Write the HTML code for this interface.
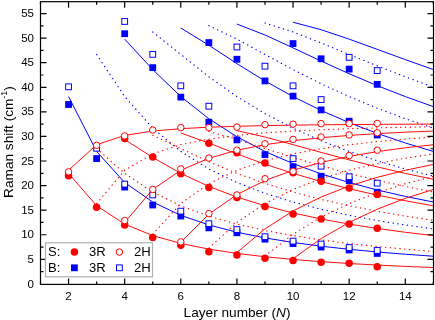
<!DOCTYPE html>
<html><head><meta charset="utf-8"><style>
html,body{margin:0;padding:0;background:#fff;width:435px;height:320px;overflow:hidden}
svg{display:block;will-change:transform}
</style></head><body>
<svg width="435" height="320" viewBox="0 0 435 320">
<defs><clipPath id="c"><rect x="40.50" y="1.5" width="392.84" height="282.40"/></clipPath></defs>
<g clip-path="url(#c)" fill="none">
<polyline points="68.56,96.57 96.62,151.44 124.68,182.52 152.74,202.04 180.80,215.33 208.86,224.95 236.92,232.22 264.98,237.90 293.04,242.46 321.10,246.20 349.16,249.32 377.22,251.97 405.28,254.24 433.34,256.21" stroke="#0000ff" stroke-width="1.0"/>
<polyline points="96.62,54.47 124.68,96.57 152.74,128.18 180.80,151.44 208.86,168.96 236.92,182.52 264.98,193.29 293.04,202.04 321.10,209.26 349.16,215.33 377.22,220.50 405.28,224.95 433.34,228.82" stroke="#0000ff" stroke-width="1.2" stroke-linecap="round" stroke-dasharray="0.35 4.45"/>
<polyline points="124.68,39.15 152.74,69.58 180.80,96.57 208.86,118.73 236.92,136.72 264.98,151.44 293.04,163.63 321.10,173.85 349.16,182.52 377.22,189.96 405.28,196.40 433.34,202.04" stroke="#0000ff" stroke-width="1.0"/>
<polyline points="152.74,31.95 180.80,54.47 208.86,76.78 236.92,96.57 264.98,113.61 293.04,128.18 321.10,140.67 349.16,151.44 377.22,160.79 405.28,168.96 433.34,176.15" stroke="#0000ff" stroke-width="1.2" stroke-linecap="round" stroke-dasharray="0.35 4.45"/>
<polyline points="180.80,28.01 208.86,45.22 236.92,63.63 264.98,80.96 293.04,96.57 321.10,110.42 349.16,122.63 377.22,133.41 405.28,142.95 433.34,151.44" stroke="#0000ff" stroke-width="1.0"/>
<polyline points="208.86,25.62 236.92,39.15 264.98,54.47 293.04,69.58 321.10,83.69 349.16,96.57 377.22,108.23 405.28,118.73 433.34,128.18" stroke="#0000ff" stroke-width="1.2" stroke-linecap="round" stroke-dasharray="0.35 4.45"/>
<polyline points="236.92,24.07 264.98,34.96 293.04,47.86 321.10,61.04 349.16,73.73 377.22,85.61 405.28,96.57 433.34,106.63" stroke="#0000ff" stroke-width="1.0"/>
<polyline points="264.98,23.01 293.04,31.95 321.10,42.92 349.16,54.47 377.22,65.88 405.28,76.78 433.34,87.03" stroke="#0000ff" stroke-width="1.2" stroke-linecap="round" stroke-dasharray="0.35 4.45"/>
<polyline points="293.04,22.24 321.10,29.71 349.16,39.15 377.22,49.33 405.28,59.59 433.34,69.58" stroke="#0000ff" stroke-width="1.0"/>
<polyline points="68.56,173.38 96.62,205.75 124.68,224.09 152.74,235.60 180.80,243.45 208.86,249.12 236.92,253.41 264.98,256.76 293.04,259.45 321.10,261.66 349.16,263.50 377.22,265.06 405.28,266.40 433.34,267.56" stroke="#ff0000" stroke-width="0.95"/>
<polyline points="96.62,148.54 124.68,173.38 152.74,192.03 180.80,205.75 208.86,216.09 236.92,224.09 264.98,230.44 293.04,235.60 321.10,239.87 349.16,243.45 377.22,246.50 405.28,249.12 433.34,251.40" stroke="#ff0000" stroke-width="1.2" stroke-linecap="round" stroke-dasharray="0.35 4.45"/>
<polyline points="124.68,139.50 152.74,157.45 180.80,173.38 208.86,186.45 236.92,197.07 264.98,205.75 293.04,212.94 321.10,218.97 349.16,224.09 377.22,228.48 405.28,232.28 433.34,235.60" stroke="#ff0000" stroke-width="0.95"/>
<polyline points="152.74,135.25 180.80,148.54 208.86,161.70 236.92,173.38 264.98,183.43 293.04,192.03 321.10,199.40 349.16,205.75 377.22,211.27 405.28,216.09 433.34,220.33" stroke="#ff0000" stroke-width="1.2" stroke-linecap="round" stroke-dasharray="0.35 4.45"/>
<polyline points="180.80,132.93 208.86,143.08 236.92,153.94 264.98,164.17 293.04,173.38 321.10,181.55 349.16,188.75 377.22,195.11 405.28,200.74 433.34,205.75" stroke="#ff0000" stroke-width="0.95"/>
<polyline points="208.86,131.52 236.92,139.50 264.98,148.54 293.04,157.45 321.10,165.78 349.16,173.38 377.22,180.26 405.28,186.45 433.34,192.03" stroke="#ff0000" stroke-width="1.2" stroke-linecap="round" stroke-dasharray="0.35 4.45"/>
<polyline points="236.92,130.61 264.98,137.03 293.04,144.64 321.10,152.41 349.16,159.90 377.22,166.91 405.28,173.38 433.34,179.32" stroke="#ff0000" stroke-width="0.95"/>
<polyline points="68.56,170.25 96.62,144.71 124.68,135.41 152.74,131.05 180.80,128.66 208.86,127.21 236.92,126.27 264.98,125.62 293.04,125.16 321.10,124.82 349.16,124.55 377.22,124.35 405.28,124.19 433.34,124.06" stroke="#ff0000" stroke-width="0.95"/>
<polyline points="96.62,203.54 124.68,170.25 152.74,153.87 180.80,144.71 208.86,139.10 236.92,135.41 264.98,132.87 293.04,131.05 321.10,129.69 349.16,128.66 377.22,127.85 405.28,127.21 433.34,126.69" stroke="#ff0000" stroke-width="1.2" stroke-linecap="round" stroke-dasharray="0.35 4.45"/>
<polyline points="124.68,222.39 152.74,189.43 180.80,170.25 208.86,158.24 236.92,150.27 264.98,144.71 293.04,140.70 321.10,137.70 349.16,135.41 377.22,133.62 405.28,132.20 433.34,131.05" stroke="#ff0000" stroke-width="0.95"/>
<polyline points="152.74,234.23 180.80,203.54 208.86,183.69 236.92,170.25 264.98,160.78 293.04,153.87 321.10,148.69 349.16,144.71 377.22,141.59 405.28,139.10 433.34,137.07" stroke="#ff0000" stroke-width="1.2" stroke-linecap="round" stroke-dasharray="0.35 4.45"/>
<polyline points="180.80,242.30 208.86,214.17 236.92,194.61 264.98,180.59 293.04,170.25 321.10,162.44 349.16,156.39 377.22,151.63 405.28,147.81 433.34,144.71" stroke="#ff0000" stroke-width="0.95"/>
<polyline points="208.86,248.14 236.92,222.39 264.98,203.54 293.04,189.43 321.10,178.65 349.16,170.25 377.22,163.60 405.28,158.24 433.34,153.87" stroke="#ff0000" stroke-width="1.2" stroke-linecap="round" stroke-dasharray="0.35 4.45"/>
<polyline points="236.92,252.54 264.98,228.93 293.04,210.93 321.10,197.01 349.16,186.06 377.22,177.32 405.28,170.25 433.34,164.46" stroke="#ff0000" stroke-width="0.95"/>
<polyline points="264.98,255.99 293.04,234.23 321.10,217.13 349.16,203.54 377.22,192.60 405.28,183.69 433.34,176.36" stroke="#ff0000" stroke-width="1.2" stroke-linecap="round" stroke-dasharray="0.35 4.45"/>
<polyline points="293.04,258.76 321.10,238.62 349.16,222.39 377.22,209.21 405.28,198.39 433.34,189.43" stroke="#ff0000" stroke-width="0.95"/>
</g>
<rect x="65.16" y="101.10" width="6.8" height="6.8" fill="#0000ff"/>
<rect x="93.22" y="155.17" width="6.8" height="6.8" fill="#0000ff"/>
<rect x="121.28" y="30.33" width="6.8" height="6.8" fill="#0000ff"/>
<rect x="121.28" y="183.67" width="6.8" height="6.8" fill="#0000ff"/>
<rect x="149.34" y="64.24" width="6.8" height="6.8" fill="#0000ff"/>
<rect x="149.34" y="201.61" width="6.8" height="6.8" fill="#0000ff"/>
<rect x="177.40" y="93.73" width="6.8" height="6.8" fill="#0000ff"/>
<rect x="177.40" y="212.67" width="6.8" height="6.8" fill="#0000ff"/>
<rect x="205.46" y="39.17" width="6.8" height="6.8" fill="#0000ff"/>
<rect x="205.46" y="118.80" width="6.8" height="6.8" fill="#0000ff"/>
<rect x="205.46" y="224.47" width="6.8" height="6.8" fill="#0000ff"/>
<rect x="233.52" y="55.88" width="6.8" height="6.8" fill="#0000ff"/>
<rect x="233.52" y="136.49" width="6.8" height="6.8" fill="#0000ff"/>
<rect x="233.52" y="229.38" width="6.8" height="6.8" fill="#0000ff"/>
<rect x="261.58" y="77.51" width="6.8" height="6.8" fill="#0000ff"/>
<rect x="261.58" y="151.24" width="6.8" height="6.8" fill="#0000ff"/>
<rect x="261.58" y="235.77" width="6.8" height="6.8" fill="#0000ff"/>
<rect x="289.64" y="40.16" width="6.8" height="6.8" fill="#0000ff"/>
<rect x="289.64" y="92.75" width="6.8" height="6.8" fill="#0000ff"/>
<rect x="289.64" y="163.28" width="6.8" height="6.8" fill="#0000ff"/>
<rect x="289.64" y="240.20" width="6.8" height="6.8" fill="#0000ff"/>
<rect x="317.70" y="55.39" width="6.8" height="6.8" fill="#0000ff"/>
<rect x="317.70" y="106.51" width="6.8" height="6.8" fill="#0000ff"/>
<rect x="317.70" y="172.86" width="6.8" height="6.8" fill="#0000ff"/>
<rect x="317.70" y="243.64" width="6.8" height="6.8" fill="#0000ff"/>
<rect x="345.76" y="65.71" width="6.8" height="6.8" fill="#0000ff"/>
<rect x="345.76" y="117.81" width="6.8" height="6.8" fill="#0000ff"/>
<rect x="345.76" y="177.28" width="6.8" height="6.8" fill="#0000ff"/>
<rect x="345.76" y="246.59" width="6.8" height="6.8" fill="#0000ff"/>
<rect x="373.82" y="80.95" width="6.8" height="6.8" fill="#0000ff"/>
<rect x="373.82" y="131.58" width="6.8" height="6.8" fill="#0000ff"/>
<rect x="373.82" y="188.84" width="6.8" height="6.8" fill="#0000ff"/>
<rect x="373.82" y="250.03" width="6.8" height="6.8" fill="#0000ff"/>
<rect x="65.66" y="83.91" width="5.8" height="5.8" fill="#fff" stroke="#0000ff" stroke-width="1"/>
<rect x="93.72" y="145.35" width="5.8" height="5.8" fill="#fff" stroke="#0000ff" stroke-width="1"/>
<rect x="121.78" y="18.54" width="5.8" height="5.8" fill="#fff" stroke="#0000ff" stroke-width="1"/>
<rect x="121.78" y="181.23" width="5.8" height="5.8" fill="#fff" stroke="#0000ff" stroke-width="1"/>
<rect x="149.84" y="51.47" width="5.8" height="5.8" fill="#fff" stroke="#0000ff" stroke-width="1"/>
<rect x="149.84" y="192.04" width="5.8" height="5.8" fill="#fff" stroke="#0000ff" stroke-width="1"/>
<rect x="177.90" y="82.93" width="5.8" height="5.8" fill="#fff" stroke="#0000ff" stroke-width="1"/>
<rect x="177.90" y="208.26" width="5.8" height="5.8" fill="#fff" stroke="#0000ff" stroke-width="1"/>
<rect x="205.96" y="103.32" width="5.8" height="5.8" fill="#fff" stroke="#0000ff" stroke-width="1"/>
<rect x="205.96" y="220.79" width="5.8" height="5.8" fill="#fff" stroke="#0000ff" stroke-width="1"/>
<rect x="234.02" y="44.10" width="5.8" height="5.8" fill="#fff" stroke="#0000ff" stroke-width="1"/>
<rect x="234.02" y="226.69" width="5.8" height="5.8" fill="#fff" stroke="#0000ff" stroke-width="1"/>
<rect x="262.08" y="63.27" width="5.8" height="5.8" fill="#fff" stroke="#0000ff" stroke-width="1"/>
<rect x="262.08" y="233.82" width="5.8" height="5.8" fill="#fff" stroke="#0000ff" stroke-width="1"/>
<rect x="290.14" y="82.93" width="5.8" height="5.8" fill="#fff" stroke="#0000ff" stroke-width="1"/>
<rect x="290.14" y="155.67" width="5.8" height="5.8" fill="#fff" stroke="#0000ff" stroke-width="1"/>
<rect x="290.14" y="238.24" width="5.8" height="5.8" fill="#fff" stroke="#0000ff" stroke-width="1"/>
<rect x="318.20" y="96.69" width="5.8" height="5.8" fill="#fff" stroke="#0000ff" stroke-width="1"/>
<rect x="318.20" y="163.29" width="5.8" height="5.8" fill="#fff" stroke="#0000ff" stroke-width="1"/>
<rect x="318.20" y="241.19" width="5.8" height="5.8" fill="#fff" stroke="#0000ff" stroke-width="1"/>
<rect x="346.26" y="54.42" width="5.8" height="5.8" fill="#fff" stroke="#0000ff" stroke-width="1"/>
<rect x="346.26" y="173.85" width="5.8" height="5.8" fill="#fff" stroke="#0000ff" stroke-width="1"/>
<rect x="346.26" y="244.63" width="5.8" height="5.8" fill="#fff" stroke="#0000ff" stroke-width="1"/>
<rect x="374.32" y="67.69" width="5.8" height="5.8" fill="#fff" stroke="#0000ff" stroke-width="1"/>
<rect x="374.32" y="180.24" width="5.8" height="5.8" fill="#fff" stroke="#0000ff" stroke-width="1"/>
<rect x="374.32" y="247.58" width="5.8" height="5.8" fill="#fff" stroke="#0000ff" stroke-width="1"/>
<circle cx="68.56" cy="175.77" r="3.75" fill="#ff0000"/>
<circle cx="96.62" cy="207.23" r="3.75" fill="#ff0000"/>
<circle cx="124.68" cy="138.42" r="3.75" fill="#ff0000"/>
<circle cx="124.68" cy="224.92" r="3.75" fill="#ff0000"/>
<circle cx="152.74" cy="157.09" r="3.75" fill="#ff0000"/>
<circle cx="152.74" cy="237.45" r="3.75" fill="#ff0000"/>
<circle cx="180.80" cy="173.80" r="3.75" fill="#ff0000"/>
<circle cx="180.80" cy="245.32" r="3.75" fill="#ff0000"/>
<circle cx="208.86" cy="143.33" r="3.75" fill="#ff0000"/>
<circle cx="208.86" cy="187.57" r="3.75" fill="#ff0000"/>
<circle cx="208.86" cy="251.71" r="3.75" fill="#ff0000"/>
<circle cx="236.92" cy="152.67" r="3.75" fill="#ff0000"/>
<circle cx="236.92" cy="197.40" r="3.75" fill="#ff0000"/>
<circle cx="236.92" cy="254.90" r="3.75" fill="#ff0000"/>
<circle cx="264.98" cy="162.99" r="3.75" fill="#ff0000"/>
<circle cx="264.98" cy="206.49" r="3.75" fill="#ff0000"/>
<circle cx="264.98" cy="258.34" r="3.75" fill="#ff0000"/>
<circle cx="293.04" cy="172.82" r="3.75" fill="#ff0000"/>
<circle cx="293.04" cy="214.11" r="3.75" fill="#ff0000"/>
<circle cx="293.04" cy="260.55" r="3.75" fill="#ff0000"/>
<circle cx="321.10" cy="181.18" r="3.75" fill="#ff0000"/>
<circle cx="321.10" cy="219.02" r="3.75" fill="#ff0000"/>
<circle cx="321.10" cy="262.27" r="3.75" fill="#ff0000"/>
<circle cx="349.16" cy="188.06" r="3.75" fill="#ff0000"/>
<circle cx="349.16" cy="223.94" r="3.75" fill="#ff0000"/>
<circle cx="349.16" cy="263.26" r="3.75" fill="#ff0000"/>
<circle cx="377.22" cy="194.45" r="3.75" fill="#ff0000"/>
<circle cx="377.22" cy="228.36" r="3.75" fill="#ff0000"/>
<circle cx="377.22" cy="266.70" r="3.75" fill="#ff0000"/>
<circle cx="68.56" cy="171.84" r="3.25" fill="#fff" stroke="#ff0000" stroke-width="1"/>
<circle cx="96.62" cy="145.30" r="3.25" fill="#fff" stroke="#ff0000" stroke-width="1"/>
<circle cx="124.68" cy="135.96" r="3.25" fill="#fff" stroke="#ff0000" stroke-width="1"/>
<circle cx="124.68" cy="220.50" r="3.25" fill="#fff" stroke="#ff0000" stroke-width="1"/>
<circle cx="152.74" cy="130.06" r="3.25" fill="#fff" stroke="#ff0000" stroke-width="1"/>
<circle cx="152.74" cy="189.53" r="3.25" fill="#fff" stroke="#ff0000" stroke-width="1"/>
<circle cx="180.80" cy="127.60" r="3.25" fill="#fff" stroke="#ff0000" stroke-width="1"/>
<circle cx="180.80" cy="168.89" r="3.25" fill="#fff" stroke="#ff0000" stroke-width="1"/>
<circle cx="180.80" cy="241.88" r="3.25" fill="#fff" stroke="#ff0000" stroke-width="1"/>
<circle cx="208.86" cy="127.60" r="3.25" fill="#fff" stroke="#ff0000" stroke-width="1"/>
<circle cx="208.86" cy="158.08" r="3.25" fill="#fff" stroke="#ff0000" stroke-width="1"/>
<circle cx="208.86" cy="213.62" r="3.25" fill="#fff" stroke="#ff0000" stroke-width="1"/>
<circle cx="236.92" cy="127.11" r="3.25" fill="#fff" stroke="#ff0000" stroke-width="1"/>
<circle cx="236.92" cy="150.21" r="3.25" fill="#fff" stroke="#ff0000" stroke-width="1"/>
<circle cx="236.92" cy="194.94" r="3.25" fill="#fff" stroke="#ff0000" stroke-width="1"/>
<circle cx="264.98" cy="124.65" r="3.25" fill="#fff" stroke="#ff0000" stroke-width="1"/>
<circle cx="264.98" cy="143.82" r="3.25" fill="#fff" stroke="#ff0000" stroke-width="1"/>
<circle cx="264.98" cy="178.72" r="3.25" fill="#fff" stroke="#ff0000" stroke-width="1"/>
<circle cx="293.04" cy="124.16" r="3.25" fill="#fff" stroke="#ff0000" stroke-width="1"/>
<circle cx="293.04" cy="139.40" r="3.25" fill="#fff" stroke="#ff0000" stroke-width="1"/>
<circle cx="293.04" cy="171.35" r="3.25" fill="#fff" stroke="#ff0000" stroke-width="1"/>
<circle cx="321.10" cy="123.67" r="3.25" fill="#fff" stroke="#ff0000" stroke-width="1"/>
<circle cx="321.10" cy="136.94" r="3.25" fill="#fff" stroke="#ff0000" stroke-width="1"/>
<circle cx="321.10" cy="161.02" r="3.25" fill="#fff" stroke="#ff0000" stroke-width="1"/>
<circle cx="349.16" cy="123.67" r="3.25" fill="#fff" stroke="#ff0000" stroke-width="1"/>
<circle cx="349.16" cy="134.98" r="3.25" fill="#fff" stroke="#ff0000" stroke-width="1"/>
<circle cx="349.16" cy="155.62" r="3.25" fill="#fff" stroke="#ff0000" stroke-width="1"/>
<circle cx="377.22" cy="123.43" r="3.25" fill="#fff" stroke="#ff0000" stroke-width="1"/>
<circle cx="377.22" cy="132.76" r="3.25" fill="#fff" stroke="#ff0000" stroke-width="1"/>
<circle cx="377.22" cy="150.21" r="3.25" fill="#fff" stroke="#ff0000" stroke-width="1"/>
<rect x="40.5" y="1.7" width="393.0" height="282.7" fill="none" stroke="#000" stroke-width="1.2"/>
<path d="M40.50,284.4v-3M40.50,1.7v3M68.56,284.4v-6M68.56,1.7v6M96.62,284.4v-3M96.62,1.7v3M124.68,284.4v-6M124.68,1.7v6M152.74,284.4v-3M152.74,1.7v3M180.80,284.4v-6M180.80,1.7v6M208.86,284.4v-3M208.86,1.7v3M236.92,284.4v-6M236.92,1.7v6M264.98,284.4v-3M264.98,1.7v3M293.04,284.4v-6M293.04,1.7v6M321.10,284.4v-3M321.10,1.7v3M349.16,284.4v-6M349.16,1.7v6M377.22,284.4v-3M377.22,1.7v3M405.28,284.4v-6M405.28,1.7v6M433.34,284.4v-3M433.34,1.7v3M40.5,271.61h3M433.5,271.61h-3M40.5,259.32h6M433.5,259.32h-6M40.5,247.04h3M433.5,247.04h-3M40.5,234.75h6M433.5,234.75h-6M40.5,222.46h3M433.5,222.46h-3M40.5,210.17h6M433.5,210.17h-6M40.5,197.89h3M433.5,197.89h-3M40.5,185.60h6M433.5,185.60h-6M40.5,173.31h3M433.5,173.31h-3M40.5,161.02h6M433.5,161.02h-6M40.5,148.74h3M433.5,148.74h-3M40.5,136.45h6M433.5,136.45h-6M40.5,124.16h3M433.5,124.16h-3M40.5,111.87h6M433.5,111.87h-6M40.5,99.59h3M433.5,99.59h-3M40.5,87.30h6M433.5,87.30h-6M40.5,75.01h3M433.5,75.01h-3M40.5,62.72h6M433.5,62.72h-6M40.5,50.44h3M433.5,50.44h-3M40.5,38.15h6M433.5,38.15h-6M40.5,25.86h3M433.5,25.86h-3M40.5,13.57h6M433.5,13.57h-6" stroke="#000" stroke-width="1.2" fill="none"/>
<text x="68.56" y="300" font-family="Liberation Sans, sans-serif" font-size="11.5" text-anchor="middle">2</text>
<text x="124.68" y="300" font-family="Liberation Sans, sans-serif" font-size="11.5" text-anchor="middle">4</text>
<text x="180.80" y="300" font-family="Liberation Sans, sans-serif" font-size="11.5" text-anchor="middle">6</text>
<text x="236.92" y="300" font-family="Liberation Sans, sans-serif" font-size="11.5" text-anchor="middle">8</text>
<text x="293.04" y="300" font-family="Liberation Sans, sans-serif" font-size="11.5" text-anchor="middle">10</text>
<text x="349.16" y="300" font-family="Liberation Sans, sans-serif" font-size="11.5" text-anchor="middle">12</text>
<text x="405.28" y="300" font-family="Liberation Sans, sans-serif" font-size="11.5" text-anchor="middle">14</text>
<text x="34" y="287.50" font-family="Liberation Sans, sans-serif" font-size="11.5" text-anchor="end">0</text>
<text x="34" y="262.93" font-family="Liberation Sans, sans-serif" font-size="11.5" text-anchor="end">5</text>
<text x="34" y="238.35" font-family="Liberation Sans, sans-serif" font-size="11.5" text-anchor="end">10</text>
<text x="34" y="213.77" font-family="Liberation Sans, sans-serif" font-size="11.5" text-anchor="end">15</text>
<text x="34" y="189.20" font-family="Liberation Sans, sans-serif" font-size="11.5" text-anchor="end">20</text>
<text x="34" y="164.62" font-family="Liberation Sans, sans-serif" font-size="11.5" text-anchor="end">25</text>
<text x="34" y="140.05" font-family="Liberation Sans, sans-serif" font-size="11.5" text-anchor="end">30</text>
<text x="34" y="115.47" font-family="Liberation Sans, sans-serif" font-size="11.5" text-anchor="end">35</text>
<text x="34" y="90.90" font-family="Liberation Sans, sans-serif" font-size="11.5" text-anchor="end">40</text>
<text x="34" y="66.32" font-family="Liberation Sans, sans-serif" font-size="11.5" text-anchor="end">45</text>
<text x="34" y="41.75" font-family="Liberation Sans, sans-serif" font-size="11.5" text-anchor="end">50</text>
<text x="34" y="17.17" font-family="Liberation Sans, sans-serif" font-size="11.5" text-anchor="end">55</text>
<text x="237" y="316.5" font-family="Liberation Sans, sans-serif" font-size="13.65" text-anchor="middle">Layer number (<tspan font-style="italic">N</tspan>)</text>
<text transform="translate(13,142) rotate(-90)" font-family="Liberation Sans, sans-serif" font-size="13.65" text-anchor="middle">Raman shift (cm<tspan dy="-6" font-size="9">-1</tspan><tspan dy="6">)</tspan></text>
<rect x="45.5" y="242.8" width="107" height="34.0" fill="#fff" stroke="#b0b0b0" stroke-width="1.2"/>
<text x="48" y="256.4" font-family="Liberation Sans, sans-serif" font-size="13.1">S:</text>
<text x="48" y="271.9" font-family="Liberation Sans, sans-serif" font-size="13.1">B:</text>
<text x="89" y="256.4" font-family="Liberation Sans, sans-serif" font-size="13.1">3R</text>
<text x="89" y="271.9" font-family="Liberation Sans, sans-serif" font-size="13.1">3R</text>
<text x="134.0" y="256.4" font-family="Liberation Sans, sans-serif" font-size="13.1">2H</text>
<text x="134.0" y="271.9" font-family="Liberation Sans, sans-serif" font-size="13.1">2H</text>
<circle cx="74.45" cy="252.10" r="3.75" fill="#ff0000"/>
<circle cx="119.40" cy="252.10" r="3.25" fill="#fff" stroke="#ff0000" stroke-width="1"/>
<rect x="71.00" y="264.40" width="6.8" height="6.8" fill="#0000ff"/>
<rect x="116.50" y="264.90" width="5.8" height="5.8" fill="#fff" stroke="#0000ff" stroke-width="1"/>
</svg>
</body></html>
